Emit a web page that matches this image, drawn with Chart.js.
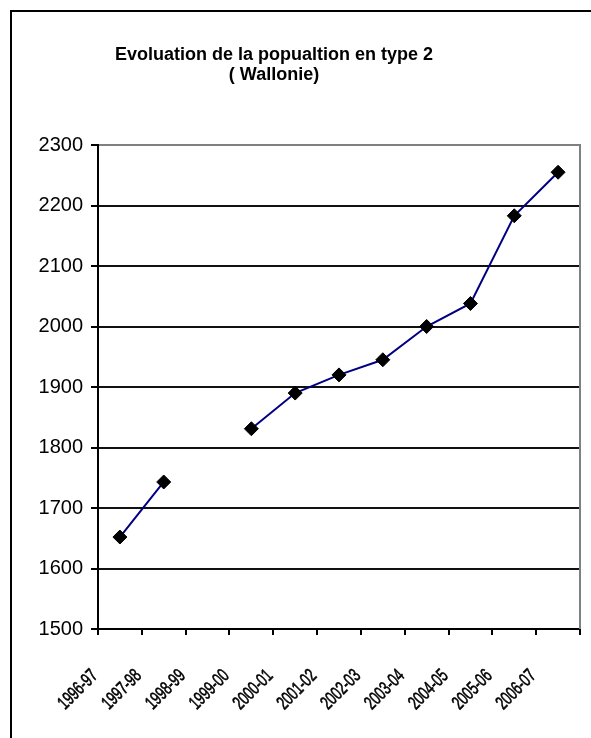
<!DOCTYPE html>
<html>
<head>
<meta charset="utf-8">
<title>Evoluation de la popualtion en type 2 ( Wallonie)</title>
<script src="https://cdn.jsdelivr.net/npm/chart.js@4/dist/chart.umd.min.js"></script>
<style>
  html, body { margin: 0; padding: 0; background: #fff; }
  canvas { display: block; }
</style>
</head>
<body>
<canvas id="chart" width="591" height="738"></canvas>
<script>
// School years on the category axis
const schoolYears = ['1996-97', '1997-98', '1998-99', '1999-00', '2000-01', '2001-02',
                     '2002-03', '2003-04', '2004-05', '2005-06', '2006-07'];
// Pupils in type 2, Wallonia (no figure for 1998-99)
const population = [1652, 1743, null, 1831, 1890, 1920, 1945, 2000, 2038, 2183, 2255];
// Value axis
const yMin = 1500;
const yMax = 2300;
const yStep = 100;
// Title lines
const titleLines = ['Evoluation de la popualtion en type 2', '( Wallonie)'];

const FONT = "'Liberation Sans', Arial, Helvetica, sans-serif";

// Outer frame and white page
const framePlugin = {
  id: 'frame',
  beforeDraw(chart) {
    const c = chart.ctx;
    c.save();
    c.fillStyle = '#fff';
    c.fillRect(0, 0, chart.width, chart.height);
    c.strokeStyle = '#000';
    c.lineWidth = 2;
    c.strokeRect(11, 11, 800, 900);
    c.restore();
  }
};

// Grey right edge of the plot area
const plotEdgePlugin = {
  id: 'plotEdge',
  beforeDatasetsDraw(chart) {
    const a = chart.chartArea, c = chart.ctx;
    c.save();
    c.strokeStyle = '#808080';
    c.lineWidth = 2;
    c.beginPath();
    c.moveTo(a.right, a.top - 1);
    c.lineTo(a.right, a.bottom);
    c.stroke();
    c.restore();
  }
};

// Title is centred a little left of the page centre
const titlePlacePlugin = {
  id: 'titlePlace',
  afterLayout(chart) {
    if (chart.titleBlock) {
      chart.titleBlock.left = 0;
      chart.titleBlock.right = 548;
    }
  }
};

// Narrow (horizontally squeezed) glyphs for the slanted year labels
const NARROW = 0.68;
const condensedTicksPlugin = {
  id: 'condensedTicks',
  beforeDraw(chart) {
    const s = chart.scales.x;
    if (!s || s._condensed) return;
    const orig = s.drawLabels;
    s.drawLabels = function (area) {
      const c = this.ctx;
      const fill = c.fillText, stroke = c.strokeText;
      c.fillText = function (text, x, y) {
        return fill.call(c, text, x, y, c.measureText(text).width * NARROW);
      };
      c.strokeText = function (text, x, y) {
        return stroke.call(c, text, x, y, c.measureText(text).width * NARROW);
      };
      try { orig.call(this, area); } finally { c.fillText = fill; c.strokeText = stroke; }
    };
    s._condensed = true;
  }
};

new Chart(document.getElementById('chart'), {
  type: 'line',
  data: {
    labels: schoolYears,
    datasets: [{
      data: population,
      borderColor: '#000080',
      borderWidth: 2,
      fill: false,
      tension: 0,
      spanGaps: false,
      pointStyle: 'rectRot',
      pointRadius: 7,
      pointHoverRadius: 7,
      pointBackgroundColor: '#000',
      pointBorderColor: '#000',
      pointBorderWidth: 1
    }]
  },
  options: {
    responsive: false,
    animation: false,
    devicePixelRatio: 1,
    layout: { padding: { top: 0, left: 0, right: 11, bottom: 0 } },
    plugins: {
      legend: { display: false },
      tooltip: { enabled: false },
      title: {
        display: true,
        text: titleLines,
        color: '#000',
        font: { family: FONT, size: 18, weight: 'bold', lineHeight: 1.1 },
        padding: { top: 45.6, bottom: 59.8 }
      }
    },
    scales: {
      x: {
        offset: true,
        grid: {
          offset: true,
          drawOnChartArea: false,
          drawTicks: true,
          tickLength: 6,
          tickColor: '#000',
          tickWidth: 2,
          lineWidth: 2,
          color: '#000'
        },
        border: { display: true, color: '#000', width: 2 },
        ticks: {
          autoSkip: false,
          maxRotation: 45,
          minRotation: 45,
          labelOffset: -25,
          padding: 30,
          color: '#000',
          textStrokeColor: '#000',
          textStrokeWidth: 0.6,
          font: { family: FONT, size: 19 }
        },
        afterFit(scale) {
          scale.height = 109;
          scale.paddingLeft = 0;
          scale.paddingRight = 0;
        }
      },
      y: {
        min: yMin,
        max: yMax,
        grid: {
          drawTicks: true,
          tickLength: 7,
          tickColor: '#000',
          tickWidth: 2,
          lineWidth: 2,
          color: (ctx) => (ctx.tick && ctx.tick.value === yMax ? '#808080' : '#111')
        },
        border: { display: true, color: '#000', width: 2 },
        ticks: {
          stepSize: yStep,
          padding: 8,
          color: '#000',
          font: { family: FONT, size: 20 },
          callback: (value) => String(value)
        },
        afterFit(scale) { scale.width = 98; }
      }
    }
  },
  plugins: [framePlugin, plotEdgePlugin, titlePlacePlugin, condensedTicksPlugin]
});
</script>
</body>
</html>
